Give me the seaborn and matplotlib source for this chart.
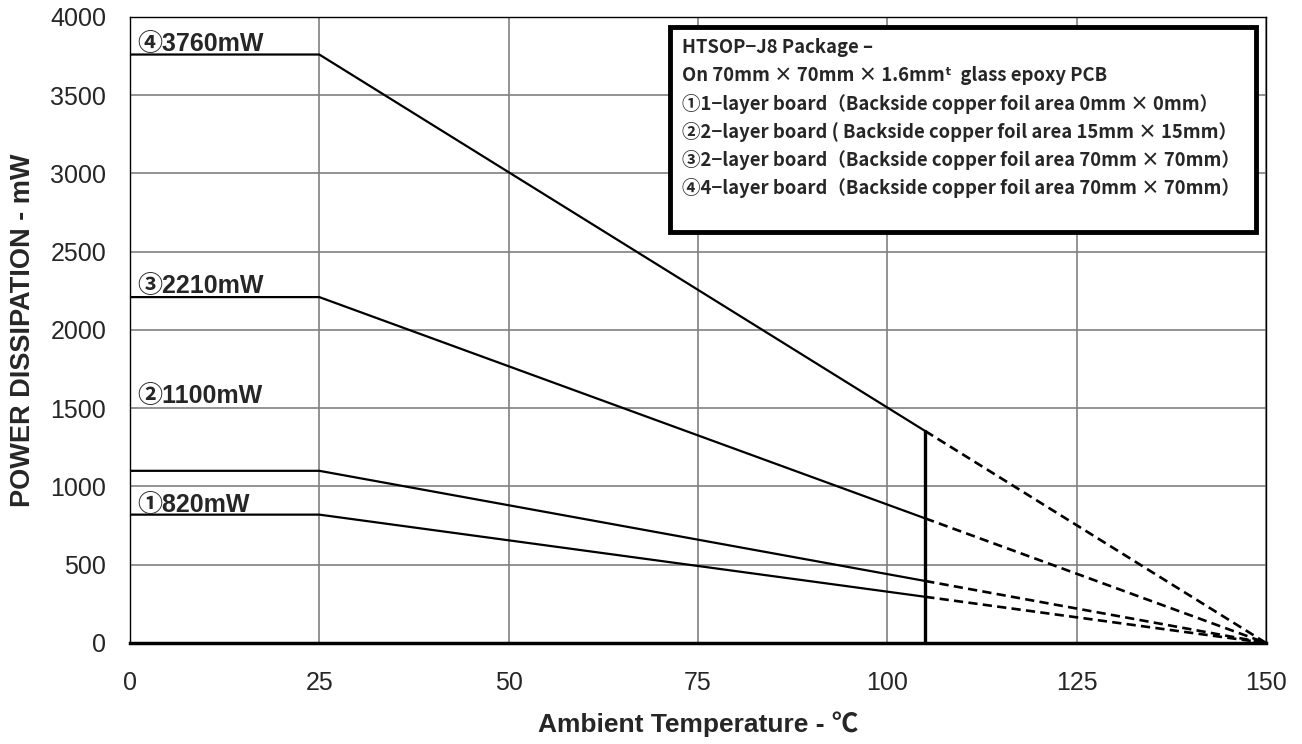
import pandas as pd
import seaborn as sns
import matplotlib.pyplot as plt

# Datos (temperatura ambiente en °C, potencia en mW)
temps = [0, 25, 105, 150]
board1 = [820, 820, 295, 0]
board2 = [1100, 1100, 396, 0]
board3 = [2210, 2210, 796, 0]
board4 = [3760, 3760, 1354, 0]
curve_labels = ["①820mW", "②1100mW", "③2210mW", "④3760mW"]
label_y = [835, 1535, 2238, 3782]
x_ticks = [0, 25, 50, 75, 100, 125, 150]
y_ticks = [0, 500, 1000, 1500, 2000, 2500, 3000, 3500, 4000]
legend_lines = [
    "HTSOP−J8 Package –",
    "On 70mm × 70mm × 1.6mmᵗ  glass epoxy PCB",
    "①1−layer board（Backside copper foil area 0mm × 0mm）",
    "②2−layer board ( Backside copper foil area 15mm × 15mm）",
    "③2−layer board（Backside copper foil area 70mm × 70mm）",
    "④4−layer board（Backside copper foil area 70mm × 70mm）",
]

rows = []
for name, vals in zip(curve_labels, [board1, board2, board3, board4]):
    for t, v in zip(temps, vals):
        rows.append({"curve": name, "temp": t, "pd": v})
df = pd.DataFrame(rows)

sns.set_style("white")
plt.rcParams["font.family"] = ["Liberation Sans", "Noto Sans CJK JP", "DejaVu Sans"]

fig = plt.figure(figsize=(13.02, 7.44), dpi=100)
ax = fig.add_axes([0.0998, 0.1358, 0.8726, 0.8414])

for name in curve_labels:
    d = df[df["curve"] == name]
    solid = d[d["temp"] <= 105]
    dashed = d[d["temp"] >= 105]
    sns.lineplot(data=solid, x="temp", y="pd", color="black", linewidth=1.6,
                 ax=ax, legend=False)
    sns.lineplot(data=dashed, x="temp", y="pd", color="black", linewidth=1.9,
                 ax=ax, legend=False, linestyle=(0, (3.5, 2)))

# línea vertical en 105 °C
ax.plot([105, 105], [0, board4[2]], color="black", linewidth=2.4)

for name, y in zip(curve_labels, label_y):
    ax.text(1.0, y, name, fontsize=18, fontweight="bold", va="baseline",
            ha="left", family=["Liberation Sans", "Noto Sans CJK JP"])

ax.set_xlim(0, 150)
ax.set_ylim(0, 4000)
ax.set_xticks(x_ticks)
ax.set_yticks(y_ticks)
ax.grid(True, color="#808080", linewidth=1.2)
ax.set_axisbelow(True)
ax.tick_params(axis="both", length=0, labelsize=18)
ax.tick_params(axis="x", pad=20)
ax.tick_params(axis="y", pad=17)

for s in ["left", "top", "right"]:
    ax.spines[s].set_color("black")
    ax.spines[s].set_linewidth(1.0)
ax.spines["bottom"].set_color("black")
ax.spines["bottom"].set_linewidth(2.5)

ax.set_xlabel("Ambient Temperature - ℃", fontsize=19, fontweight="bold", labelpad=12)
ax.set_ylabel("POWER DISSIPATION - mW", fontsize=19.5, fontweight="bold", labelpad=10)

# cuadro de descripción
box = plt.Rectangle((71.25, 2626), 77.45, 1310, transform=ax.transData,
                    facecolor="white", edgecolor="black", linewidth=3.5, zorder=5)
ax.add_patch(box)
for i, line in enumerate(legend_lines):
    ax.text(72.9, 3802 - i * 179, line, fontsize=13.3, fontweight="bold",
            va="center", ha="left", zorder=6,
            family=["Noto Sans CJK JP", "DejaVu Sans"])

plt.savefig("out.png", dpi=100)
plt.close()
